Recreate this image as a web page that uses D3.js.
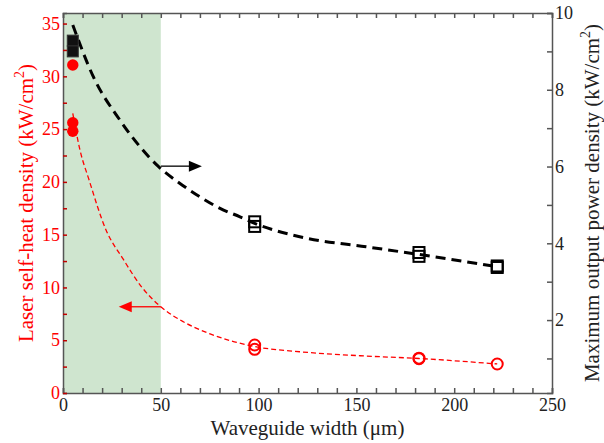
<!DOCTYPE html>
<html>
<head>
<meta charset="utf-8">
<script src="https://cdn.jsdelivr.net/npm/d3@7"></script>
<style>
  body { margin: 0; background: #fff; }
</style>
</head>
<body>
<div id="chart"></div>
<script>
"use strict";

// narrow (5 um) devices, drawn filled
const narrowWidth = 5;
const narrowPower = [9.28, 9.0];
const narrowHeat = [31.07, 25.6, 24.8];

// wide devices, open markers
const powerWidths = [98, 98, 182, 182, 222, 222];
const powerValues = [4.56, 4.44, 3.76, 3.66, 3.41, 3.37];
const heatWidths = [98, 98, 182, 182, 222];
const heatValues = [4.55, 4.14, 3.30, 3.25, 2.75];

// fitted curves
const powerFitW = [5, 15.5, 29.1, 48.6, 59.8, 70, 80.3, 90.5, 98, 121, 155, 182, 222];
const powerFitV = [9.69, 8.34, 7.21, 6.01, 5.56, 5.21, 4.91, 4.69, 4.52, 4.17, 3.91, 3.71, 3.39];
const heatFitW = [5, 8.7, 13.3, 22.1, 30.7, 40.4, 50, 61.5, 75.2, 98, 121, 155, 182, 222];
const heatFitV = [26.5, 23.0, 20.2, 15.4, 12.7, 10.0, 8.17, 6.75, 5.6, 4.4, 3.91, 3.5, 3.27, 2.75];

const shadeRange = [0, 50];
const xTicks = [0, 50, 100, 150, 200, 250];
const leftTicks = [0, 5, 10, 15, 20, 25, 30, 35];
const rightTicks = [2, 4, 6, 8, 10];

const svgWidth = 604;
const svgHeight = 443;
const margin = { top: 13, right: 52, bottom: 50, left: 63 };
const red = "#ff0000";
const axisColor = "#555";
const font = "'Liberation Serif', 'DejaVu Serif', 'Times New Roman', serif";
const tickFont = 18;

const svg = d3.select("#chart")
    .append("svg")
    .attr("width", svgWidth)
    .attr("height", svgHeight);

const x = d3.scaleLinear()
    .domain([0, 250])
    .range([margin.left, svgWidth - margin.right]);
const yL = d3.scaleLinear()
    .domain([0, 36])
    .range([svgHeight - margin.bottom, margin.top]);
const yR = d3.scaleLinear()
    .domain([0.1, 10])
    .range([svgHeight - margin.bottom, margin.top]);

const plotTop = margin.top, plotBottom = svgHeight - margin.bottom;
const plotLeft = margin.left, plotRight = svgWidth - margin.right;

// green band
svg.append("rect")
    .attr("x", x(shadeRange[0]))
    .attr("y", plotTop)
    .attr("width", x(shadeRange[1]) - x(shadeRange[0]))
    .attr("height", plotBottom - plotTop)
    .attr("fill", "#cfe5cf");

// axes
const xMinor = d3.range(0, 251, 10);
svg.append("g")
    .attr("transform", `translate(0,${plotBottom})`)
    .call(d3.axisBottom(x).tickValues(xMinor).tickSize(-5).tickFormat(""))
    .call(g => g.selectAll("line, path").attr("stroke", axisColor).attr("stroke-width", 1.5));
svg.append("g")
    .attr("transform", `translate(0,${plotBottom})`)
    .call(d3.axisBottom(x).tickValues(xTicks).tickSize(0).tickPadding(5))
    .call(g => g.select(".domain").remove())
    .call(g => g.selectAll("text").attr("font-size", tickFont).attr("fill", "#222"));
svg.append("g")
    .attr("transform", `translate(0,${plotTop})`)
    .call(d3.axisTop(x).tickValues(xMinor).tickSize(-5).tickFormat(""))
    .call(g => g.selectAll("line, path").attr("stroke", axisColor).attr("stroke-width", 1.5));

// left axis
svg.append("g")
    .attr("transform", `translate(${plotLeft},0)`)
    .call(d3.axisLeft(yL).tickValues(d3.range(0, 36, 2.5)).tickSize(-4).tickFormat(""))
    .call(g => g.selectAll(".tick line").attr("stroke", "#c00000").attr("stroke-width", 1.5))
    .call(g => g.select(".domain").attr("stroke", axisColor).attr("stroke-width", 1.5));
svg.append("g")
    .attr("transform", `translate(${plotLeft},0)`)
    .call(d3.axisLeft(yL).tickValues(leftTicks).tickSize(0).tickPadding(3))
    .call(g => g.select(".domain").remove())
    .call(g => g.selectAll("text").attr("font-size", tickFont).attr("fill", red));

// right axis
svg.append("g")
    .attr("transform", `translate(${plotRight},0)`)
    .call(d3.axisRight(yR).tickValues(d3.range(1, 11, 1)).tickSize(-5).tickFormat(""))
    .call(g => g.selectAll("line, path").attr("stroke", axisColor).attr("stroke-width", 1.5));
svg.append("g")
    .attr("transform", `translate(${plotRight},0)`)
    .call(d3.axisRight(yR).tickValues(rightTicks).tickSize(0).tickPadding(3))
    .call(g => g.select(".domain").remove())
    .call(g => g.selectAll("text").attr("font-size", tickFont).attr("fill", "#222"));

// fitted curves
const powerLine = d3.line()
    .x((d, i) => x(powerFitW[i]))
    .y(d => yR(d))
    .curve(d3.curveMonotoneX);
svg.append("path")
    .attr("d", powerLine(powerFitV))
    .attr("fill", "none")
    .attr("stroke", "#000")
    .attr("stroke-width", 3)
    .attr("stroke-dasharray", "10,6");

const heatLine = d3.line()
    .x((d, i) => x(heatFitW[i]))
    .y(d => yL(d))
    .curve(d3.curveMonotoneX);
svg.append("path")
    .attr("d", heatLine(heatFitV))
    .attr("fill", "none")
    .attr("stroke", red)
    .attr("stroke-width", 1.3)
    .attr("stroke-dasharray", "5,3");

// arrows
function arrow(x0, x1, y, color) {
    const dir = Math.sign(x1 - x0);
    svg.append("line")
        .attr("x1", x0).attr("x2", x1 - dir * 12)
        .attr("y1", y).attr("y2", y)
        .attr("stroke", color).attr("stroke-width", 1.3);
    svg.append("path")
        .attr("d", `M${x1},${y} L${x1 - dir * 13},${y - 5.5} L${x1 - dir * 13},${y + 5.5} Z`)
        .attr("fill", color);
}
arrow(x(50), x(71), yR(6.01), "#000");
arrow(x(50), x(28.5), yL(8.17), red);

// markers
const sq = 11;
svg.selectAll(".sq-narrow")
    .data(narrowPower)
    .enter()
    .append("rect")
    .attr("x", x(narrowWidth) - sq / 2)
    .attr("y", d => yR(d) - sq / 2)
    .attr("width", sq).attr("height", sq)
    .attr("fill", "#111")
    .attr("stroke", "#333")
    .attr("stroke-width", 1);

svg.selectAll(".sq-wide")
    .data(powerValues)
    .enter()
    .append("rect")
    .attr("x", (d, i) => x(powerWidths[i]) - sq / 2)
    .attr("y", d => yR(d) - sq / 2)
    .attr("width", sq).attr("height", sq)
    .attr("fill", "none")
    .attr("stroke", "#000")
    .attr("stroke-width", 2);

svg.selectAll(".c-narrow")
    .data(narrowHeat)
    .enter()
    .append("circle")
    .attr("cx", x(narrowWidth))
    .attr("cy", d => yL(d))
    .attr("r", 5.7)
    .attr("fill", red);

svg.selectAll(".c-wide")
    .data(heatValues)
    .enter()
    .append("circle")
    .attr("cx", (d, i) => x(heatWidths[i]))
    .attr("cy", d => yL(d))
    .attr("r", 5.5)
    .attr("fill", "none")
    .attr("stroke", red)
    .attr("stroke-width", 2);

// axis labels
svg.append("text")
    .attr("x", (plotLeft + plotRight) / 2)
    .attr("y", 435)
    .attr("text-anchor", "middle")
    .attr("font-size", 21)
    .attr("fill", "#222")
    .text("Waveguide width (μm)");

const yLabel = svg.append("text")
    .attr("transform", `translate(33,${(plotTop + plotBottom) / 2}) rotate(-90)`)
    .attr("text-anchor", "middle")
    .attr("font-size", 21)
    .attr("fill", red);
yLabel.append("tspan").text("Laser self-heat density (kW/cm");
yLabel.append("tspan").attr("font-size", 14).attr("dy", -9).text("2");
yLabel.append("tspan").attr("dy", 9).text(")");

const y2Label = svg.append("text")
    .attr("transform", `translate(599,${(plotTop + plotBottom) / 2}) rotate(-90)`)
    .attr("text-anchor", "middle")
    .attr("font-size", 21)
    .attr("fill", "#222");
y2Label.append("tspan").text("Maximum output power density (kW/cm");
y2Label.append("tspan").attr("font-size", 14).attr("dy", -9).text("2");
y2Label.append("tspan").attr("dy", 9).text(")");

// same font everywhere (d3 axes set sans-serif on their groups)
svg.attr("font-family", font);
svg.selectAll("g").attr("font-family", font);
svg.selectAll("text").attr("font-family", font);
</script>
</body>
</html>
